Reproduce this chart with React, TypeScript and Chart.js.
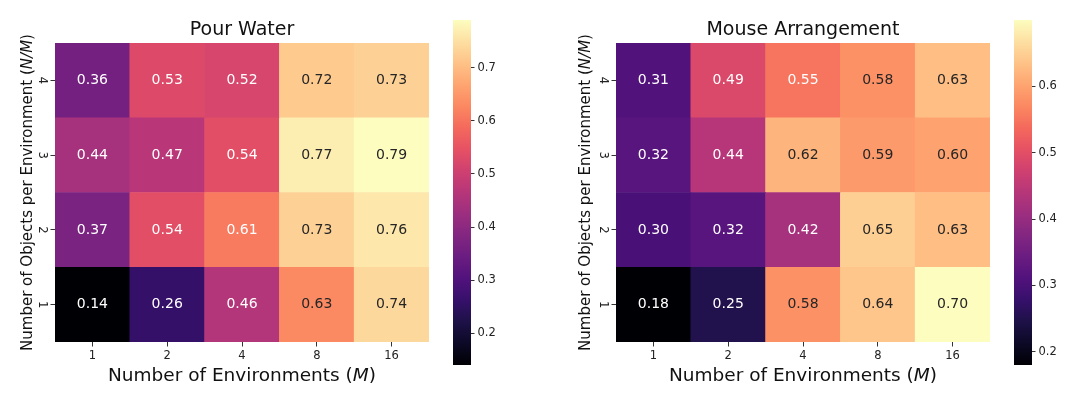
import React, { useEffect, useRef } from 'react';
import { Chart, registerables } from 'chart.js';

Chart.register(...registerables);

// ---------- data ----------
const envLabels = ['1', '2', '4', '8', '16'];
const objLabels = ['1', '2', '3', '4'];

// Pour Water, rows N/M = 1..4, columns M = 1,2,4,8,16
const pourN1 = [0.14, 0.26, 0.46, 0.63, 0.74];
const pourN2 = [0.37, 0.54, 0.61, 0.73, 0.76];
const pourN3 = [0.44, 0.47, 0.54, 0.77, 0.79];
const pourN4 = [0.36, 0.53, 0.52, 0.72, 0.73];

// Mouse Arrangement
const mouseN1 = [0.18, 0.25, 0.58, 0.64, 0.70];
const mouseN2 = [0.30, 0.32, 0.42, 0.65, 0.63];
const mouseN3 = [0.32, 0.44, 0.62, 0.59, 0.60];
const mouseN4 = [0.31, 0.49, 0.55, 0.58, 0.63];

const pourTicks = [0.2, 0.3, 0.4, 0.5, 0.6, 0.7];
const mouseTicks = [0.2, 0.3, 0.4, 0.5, 0.6];

const pourRows = [pourN1, pourN2, pourN3, pourN4];
const mouseRows = [mouseN1, mouseN2, mouseN3, mouseN4];

// ---------- style ----------
const FONT = 'DejaVu Sans';
const MAGMA = [
  '#000004', '#0c0926', '#1d1147', '#36106b', '#51127c', '#6a1c81', '#822681', '#9c2e7f',
  '#b63679', '#cf4070', '#e65164', '#f4695c', '#fb8861', '#fea571', '#fec287', '#fddfa2', '#fcfdbf',
];

function hexToRgb(h: string): number[] {
  return [parseInt(h.slice(1, 3), 16), parseInt(h.slice(3, 5), 16), parseInt(h.slice(5, 7), 16)];
}
const MAGMA_RGB = MAGMA.map(hexToRgb);

function magmaRgb(t: number): number[] {
  const c = Math.max(0, Math.min(1, t)) * (MAGMA_RGB.length - 1);
  const i = Math.min(MAGMA_RGB.length - 2, Math.floor(c));
  const f = c - i;
  const a = MAGMA_RGB[i], b = MAGMA_RGB[i + 1];
  return [0, 1, 2].map((k) => Math.round(a[k] + (b[k] - a[k]) * f));
}
function rgbStr(c: number[]) {
  return `rgb(${c[0]},${c[1]},${c[2]})`;
}
function luminance(c: number[]) {
  const lin = c.map((v) => {
    const s = v / 255;
    return s <= 0.03928 ? s / 12.92 : Math.pow((s + 0.055) / 1.055, 2.4);
  });
  return 0.2126 * lin[0] + 0.7152 * lin[1] + 0.0722 * lin[2];
}

type Part = { t: string; it?: boolean };

function drawRich(ctx: CanvasRenderingContext2D, parts: Part[], size: number, x: number, y: number, rotate: boolean) {
  ctx.save();
  ctx.translate(x, y);
  if (rotate) ctx.rotate(-Math.PI / 2);
  const fonts = parts.map((p) => `${p.it ? 'italic ' : ''}${size}px "${FONT}"`);
  const widths = parts.map((p, i) => {
    ctx.font = fonts[i];
    return ctx.measureText(p.t).width;
  });
  const total = widths.reduce((a, b) => a + b, 0);
  let cx = -total / 2;
  ctx.textAlign = 'left';
  ctx.textBaseline = 'alphabetic';
  ctx.fillStyle = '#111';
  parts.forEach((p, i) => {
    ctx.font = fonts[i];
    ctx.fillText(p.t, cx, 0);
    cx += widths[i];
  });
  ctx.restore();
}

const xTitleParts: Part[] = [{ t: 'Number of Environments (' }, { t: 'M', it: true }, { t: ')' }];
const yTitleParts: Part[] = [{ t: 'Number of Objects per Environment (' }, { t: 'N/M', it: true }, { t: ')' }];

function heatConfig(title: string, rows: number[][], yw: number, padRight: number, yLabelX: number): any {
  const all = rows.flat();
  const vmin = Math.min(...all);
  const vmax = Math.max(...all);
  const norm = (v: number) => (v - vmin) / (vmax - vmin);
  const tickGrid = {
    display: true,
    offset: false,
    drawOnChartArea: false,
    drawTicks: true,
    tickLength: 4.5,
    tickWidth: 1,
    tickColor: '#333',
  };
  const textPlugin = {
    id: 'heatText',
    afterDatasetsDraw(chart: any) {
      const ctx = chart.ctx as CanvasRenderingContext2D;
      ctx.save();
      ctx.font = `14px "${FONT}"`;
      ctx.textAlign = 'center';
      ctx.textBaseline = 'middle';
      rows.forEach((row, r) => {
        const meta = chart.getDatasetMeta(r);
        meta.data.forEach((el: any, i: number) => {
          const v = row[i];
          const col = magmaRgb(norm(v));
          ctx.fillStyle = luminance(col) > 0.37 ? '#262626' : '#ffffff';
          ctx.fillText(v.toFixed(2), el.x, (el.y + el.base) / 2);
        });
      });
      ctx.restore();
    },
    afterDraw(chart: any) {
      const ctx = chart.ctx as CanvasRenderingContext2D;
      const a = chart.chartArea;
      drawRich(ctx, xTitleParts, 18.5, (a.left + a.right) / 2, 380.5, false);
      drawRich(ctx, yTitleParts, 15, yLabelX, (a.top + a.bottom) / 2, true);
    },
  };
  return {
    type: 'bar',
    data: {
      labels: envLabels,
      datasets: rows.map((row, r) => ({
        label: objLabels[r],
        data: row.map(() => 1),
        backgroundColor: row.map((v) => rgbStr(magmaRgb(norm(v)))),
        borderWidth: 0,
        barPercentage: 1,
        categoryPercentage: 1,
      })),
    },
    options: {
      responsive: false,
      animation: false,
      devicePixelRatio: 1,
      layout: { padding: { left: 0, right: padRight, top: 0, bottom: 0 } },
      plugins: {
        legend: { display: false },
        tooltip: { enabled: false },
        title: {
          display: true,
          text: title,
          fullSize: false,
          color: '#111',
          font: { family: FONT, size: 19, weight: 'normal', lineHeight: 1.2 },
          padding: { top: 18.7, bottom: 1.5 },
        },
      },
      scales: {
        x: {
          stacked: true,
          offset: true,
          grid: tickGrid,
          border: { display: false },
          ticks: { font: { family: FONT, size: 11.5 }, color: '#222', padding: 2.3, maxRotation: 0, minRotation: 0 },
          afterFit: (s: any) => {
            s.height = 55;
          },
        },
        y: {
          type: 'linear',
          stacked: true,
          min: 0,
          max: objLabels.length,
          grid: tickGrid,
          border: { display: false },
          afterBuildTicks: (s: any) => {
            s.ticks = objLabels.map((_, i) => ({ value: i + 0.5 }));
          },
          ticks: {
            callback: (_v: any, i: number) => objLabels[i],
            font: { family: FONT, size: 11.5 },
            color: '#222',
            padding: 4.8,
            minRotation: -90,
            maxRotation: -90,
            crossAlign: 'center',
          },
          afterFit: (s: any) => {
            s.width = yw;
          },
        },
      },
    },
    plugins: [textPlugin],
  };
}

function colorbarConfig(rows: number[][], ticks: number[], yw: number): any {
  const all = rows.flat();
  const vmin = Math.min(...all);
  const vmax = Math.max(...all);
  return {
    type: 'bar',
    data: {
      labels: [''],
      datasets: [
        {
          data: [[vmin, vmax]],
          backgroundColor: (c: any) => {
            const chart = c.chart;
            const area = chart.chartArea;
            if (!area) return '#000';
            const g = chart.ctx.createLinearGradient(0, area.bottom, 0, area.top);
            MAGMA.forEach((col, i) => g.addColorStop(i / (MAGMA.length - 1), col));
            return g;
          },
          borderWidth: 0,
          barPercentage: 1,
          categoryPercentage: 1,
        },
      ],
    },
    options: {
      responsive: false,
      animation: false,
      devicePixelRatio: 1,
      layout: { padding: { left: 0, right: 0, top: 20, bottom: 32 } },
      plugins: { legend: { display: false }, tooltip: { enabled: false }, title: { display: false } },
      scales: {
        x: { display: false },
        y: {
          position: 'right',
          min: vmin,
          max: vmax,
          afterBuildTicks: (s: any) => {
            s.ticks = ticks.map((v) => ({ value: v }));
          },
          ticks: {
            callback: (v: any) => Number(v).toFixed(1),
            font: { family: FONT, size: 11.5 },
            color: '#222',
            padding: 3,
          },
          grid: { drawOnChartArea: false, drawTicks: true, tickLength: 3.5, tickWidth: 1, tickColor: '#333' },
          border: { display: false },
          afterFit: (s: any) => {
            s.width = yw;
          },
        },
      },
    },
  };
}

function ChartCanvas({ config, left, width }: { config: () => any; left: number; width: number }) {
  const ref = useRef<HTMLCanvasElement | null>(null);
  useEffect(() => {
    if (!ref.current) return;
    const chart = new Chart(ref.current, config());
    return () => chart.destroy();
  }, []);
  return (
    <canvas
      ref={ref}
      width={width}
      height={397}
      style={{ position: 'absolute', left, top: 0, width, height: 397, display: 'block' }}
    />
  );
}

export default function App() {
  return (
    <div style={{ position: 'fixed', left: 0, top: 0, width: 1080, height: 397, background: '#fff', overflow: 'hidden' }}>
      <ChartCanvas left={0} width={540} config={() => heatConfig('Pour Water', pourRows, 55, 111, 32)} />
      <ChartCanvas left={453} width={60} config={() => colorbarConfig(pourRows, pourTicks, 42)} />
      <ChartCanvas left={540} width={540} config={() => heatConfig('Mouse Arrangement', mouseRows, 76, 90, 50)} />
      <ChartCanvas left={1014} width={66} config={() => colorbarConfig(mouseRows, mouseTicks, 48)} />
    </div>
  );
}
